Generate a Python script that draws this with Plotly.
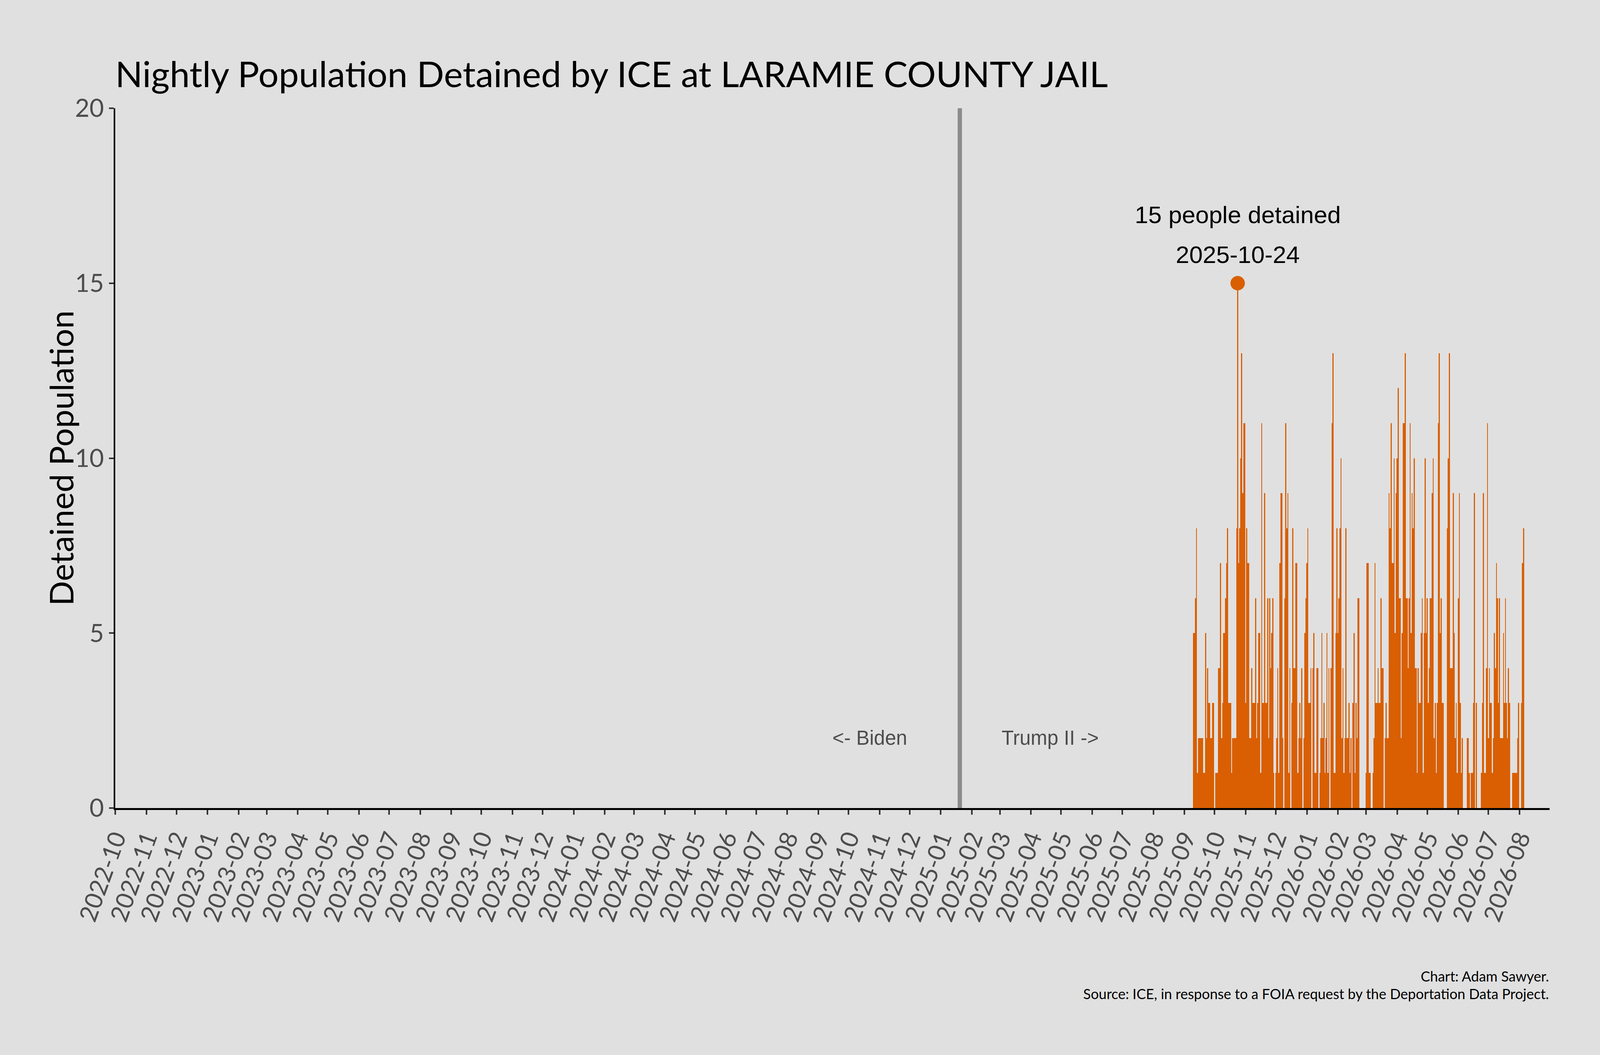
import pandas as pd
import plotly.graph_objects as go

# nightly detained counts, one per day starting at first_day
first_day = "2025-09-10"
detained = [
    5, 5, 6, 8, 1, 2, 2, 2, 2, 2,
    1, 1, 5, 2, 4, 3, 3, 2, 2, 3,
    3, 0, 1, 1, 1, 4, 4, 7, 2, 3,
    5, 5, 6, 7, 8, 3, 3, 3, 1, 2,
    2, 2, 2, 8, 15, 7, 8, 10, 13, 9,
    11, 11, 3, 8, 7, 7, 2, 2, 4, 3,
    3, 3, 6, 2, 3, 5, 5, 1, 11, 3,
    3, 9, 3, 3, 6, 2, 6, 4, 5, 6,
    1, 0, 1, 2, 4, 1, 7, 9, 9, 2,
    0, 6, 11, 8, 9, 1, 4, 0, 3, 8,
    4, 4, 7, 7, 1, 2, 3, 2, 4, 0,
    2, 5, 6, 7, 8, 3, 3, 4, 0, 4,
    5, 1, 1, 4, 4, 0, 1, 2, 5, 2,
    3, 1, 2, 5, 1, 4, 0, 4, 11, 13,
    1, 1, 5, 8, 5, 6, 8, 10, 2, 4,
    1, 2, 8, 2, 2, 3, 1, 2, 0, 3,
    5, 1, 3, 2, 6, 6, 0, 0, 0, 0,
    0, 0, 1, 7, 7, 1, 1, 0, 0, 1,
    2, 7, 3, 3, 4, 3, 3, 6, 4, 4,
    0, 2, 3, 2, 2, 9, 8, 11, 7, 7,
    10, 5, 9, 10, 12, 6, 6, 2, 5, 11,
    11, 13, 6, 6, 4, 6, 11, 5, 9, 8,
    10, 4, 4, 1, 4, 3, 3, 5, 6, 1,
    5, 10, 5, 6, 3, 4, 6, 6, 9, 10,
    2, 3, 1, 3, 11, 13, 5, 6, 3, 3,
    0, 0, 0, 8, 10, 13, 4, 4, 4, 9,
    5, 2, 3, 1, 6, 9, 3, 1, 2, 0,
    0, 0, 0, 2, 2, 1, 0, 1, 1, 3,
    9, 0, 3, 0, 0, 0, 0, 1, 3, 9,
    1, 1, 4, 11, 2, 4, 3, 3, 1, 2,
    5, 4, 7, 6, 3, 6, 2, 2, 2, 5,
    3, 6, 3, 2, 4, 3, 0, 0, 1, 1,
    1, 1, 1, 2, 3, 0, 0, 3, 7, 8,
]
dates = pd.date_range(first_day, periods=len(detained), freq="D")

inauguration = pd.Timestamp("2025-01-20")
x_range = ["2022-10-01", "2026-08-31"]
y_ticks = [0, 5, 10, 15, 20]

orange = "#d95f02"
bg = "#e0e0e0"
grey_txt = "#4d4d4d"
ui_font = "Lato"
label_font = "Liberation Sans"

peak_val = max(detained)
peak_date = dates[detained.index(peak_val)]

fig = go.Figure()
fig.add_trace(go.Bar(x=dates, y=detained, width=86400000,
                     marker_color=orange, marker_line_width=0))
fig.add_trace(go.Scatter(x=[peak_date], y=[peak_val], mode="markers",
                         marker=dict(size=37, color=orange)))

# inauguration line
fig.add_shape(type="line", x0=inauguration, x1=inauguration, y0=0, y1=20,
              xref="x", yref="y", line=dict(color="#8c8c8c", width=11))

fig.add_annotation(x=inauguration - pd.Timedelta(days=90), y=2, text="<- Biden",
                   showarrow=False, font=dict(family=label_font, size=51, color=grey_txt))
fig.add_annotation(x=inauguration + pd.Timedelta(days=90), y=2, text="Trump II ->",
                   showarrow=False, font=dict(family=label_font, size=51, color=grey_txt))

fig.add_annotation(x=peak_date, y=16.96, text=f"{peak_val} people detained",
                   showarrow=False, font=dict(family=label_font, size=62, color="black"))
fig.add_annotation(x=peak_date, y=15.82, text=peak_date.strftime("%Y-%m-%d"),
                   showarrow=False, font=dict(family=label_font, size=62, color="black"))

# y axis title
fig.add_annotation(xref="paper", yref="paper", x=-0.0381, y=0.5, text="Detained Population",
                   textangle=-90, showarrow=False, xanchor="center", yanchor="middle",
                   font=dict(family=ui_font, size=84, color="black"))

# caption
fig.add_annotation(xref="paper", yref="paper", x=1, y=-0.240, xanchor="right", yanchor="middle",
                   text="Chart: Adam Sawyer.", showarrow=False,
                   font=dict(family=ui_font, size=36, color="black"))
fig.add_annotation(xref="paper", yref="paper", x=1, y=-0.265, xanchor="right", yanchor="middle",
                   text="Source: ICE, in response to a FOIA request by the Deportation Data Project.",
                   showarrow=False, font=dict(family=ui_font, size=36, color="black"))

fig.update_layout(
    paper_bgcolor=bg, plot_bgcolor=bg,
    margin=dict(l=295, r=129, t=277, b=632),
    showlegend=False, bargap=0,
    title=dict(text="Nightly Population Detained by ICE at LARAMIE COUNTY JAIL",
               x=0.072, xanchor="left", y=1 - 191 / 2700, yanchor="middle",
               font=dict(family=ui_font, size=92, color="black")),
)
fig.update_xaxes(type="date", range=x_range, dtick="M1", tick0="2022-10-01",
                 tickformat="%Y-%m", tickangle=-70, showgrid=False, zeroline=False,
                 showline=True, linecolor="black", linewidth=5,
                 ticks="outside", ticklen=12, tickwidth=4, tickcolor="#333333",
                 tickfont=dict(family=ui_font, size=62, color=grey_txt))
fig.update_yaxes(range=[0, 20], tickvals=y_ticks, showgrid=False, zeroline=False,
                 showline=True, linecolor="black", linewidth=4,
                 ticks="outside", ticklen=12, tickwidth=4, tickcolor="#333333",
                 tickfont=dict(family=ui_font, size=64, color=grey_txt))

# drop the default page margin so the chart fills the window
fix_page = ("document.body.style.margin='0';"
            "document.body.style.background='" + bg + "';"
            "Plotly.Plots.resize(document.getElementById('{plot_id}'));")
fig.write_html("out.html", post_script=fix_page, config={"displayModeBar": False})
